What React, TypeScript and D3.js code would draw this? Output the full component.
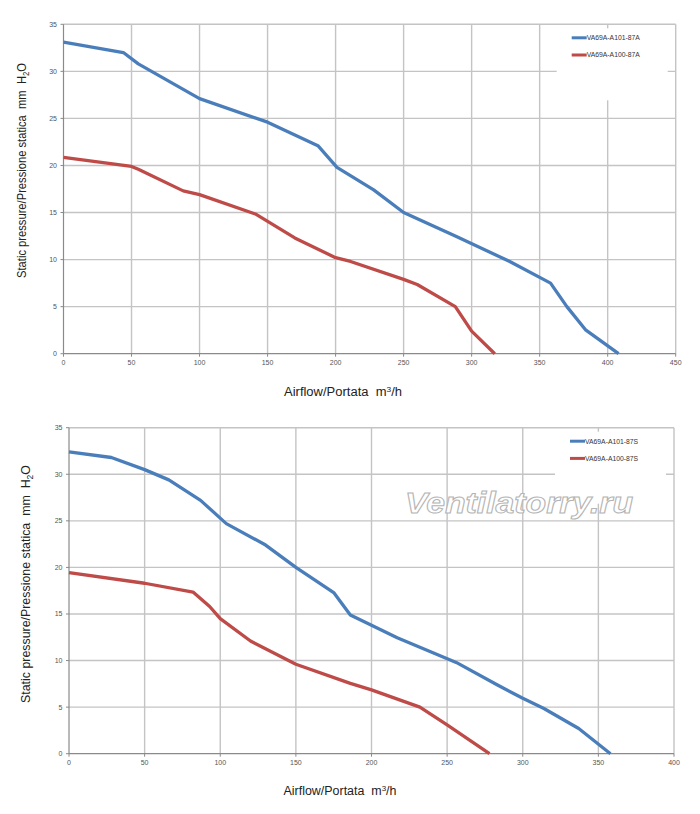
import { useEffect, useRef } from 'react';
import * as d3 from 'd3';

type Pt = [number, number];

// tick values
const yTicks = [0, 5, 10, 15, 20, 25, 30, 35];
const xTicksA = [0, 50, 100, 150, 200, 250, 300, 350, 400, 450];
const xTicksS = [0, 50, 100, 150, 200, 250, 300, 350, 400];

// legend labels
const namesA = ['VA69A-A101-87A', 'VA69A-A100-87A'];
const namesS = ['VA69A-A101-87S', 'VA69A-A100-87S'];

// airflow m3/h, static pressure mm H2O
const a101_87A: Pt[] = [
  [0, 33.1], [44, 32], [55, 30.8], [100, 27.1], [150, 24.6], [187, 22.1],
  [201, 19.8], [228, 17.4], [250, 15.0], [288, 12.5], [328, 9.8],
  [358, 7.5], [370, 5.0], [384, 2.5], [408, 0],
];
const a100_87A: Pt[] = [
  [0, 20.85], [50, 19.9], [55, 19.6], [88, 17.3], [100, 16.9], [141, 14.85],
  [170, 12.3], [200, 10.2], [211, 9.8], [250, 7.9], [260, 7.35],
  [288, 5.0], [300, 2.4], [317, 0],
];
const a101_87S: Pt[] = [
  [0, 32.4], [28, 31.8], [50, 30.5], [66, 29.4], [87, 27.2], [104, 24.7],
  [130, 22.4], [150, 20.0], [175, 17.3], [186, 14.9], [200, 13.8],
  [217, 12.45], [256, 9.8], [283, 7.4], [300, 5.95], [314, 4.85],
  [337, 2.7], [358, 0],
];
const a100_87S: Pt[] = [
  [0, 19.45], [50, 18.3], [82, 17.35], [93, 15.8], [100, 14.5], [120, 12.1],
  [150, 9.6], [186, 7.55], [200, 6.85], [232, 5.0], [250, 3.1], [278, 0],
];

const COLORS = ['#4a7ebb', '#be4b48'];
const FONT = '"Liberation Sans", Arial, sans-serif';

interface ChartCfg {
  left: number;
  right: number;
  top: number;
  bottom: number;
  xTicks: number[];
  series: Pt[][];
  names: string[];
  yTitle: { x: number; y: number; len: number };
  xTitle: { x: number; y: number; len: number };
  watermark?: boolean;
}

const charts: ChartCfg[] = [
  {
    left: 63.5, right: 675.7, top: 24.3, bottom: 353.7,
    xTicks: xTicksA, series: [a101_87A, a100_87A], names: namesA,
    yTitle: { x: 26, y: 170.5, len: 215 },
    xTitle: { x: 284, y: 396, len: 118 },
  },
  {
    left: 69, right: 674, top: 427.7, bottom: 753.7,
    xTicks: xTicksS, series: [a101_87S, a100_87S], names: namesS,
    yTitle: { x: 29.5, y: 584, len: 238 },
    xTitle: { x: 283.5, y: 795, len: 113 },
    watermark: true,
  },
];

function drawChart(svg: d3.Selection<SVGSVGElement, unknown, null, undefined>, c: ChartCfg) {
  const x = d3.scaleLinear().domain([0, d3.max(c.xTicks)!]).range([c.left, c.right]);
  const y = d3.scaleLinear().domain([0, 35]).range([c.bottom, c.top]);
  const g = svg.append('g');

  // grid
  g.selectAll('line.vg')
    .data(c.xTicks.slice(1))
    .enter()
    .append('line')
    .attr('x1', (d) => x(d)).attr('x2', (d) => x(d))
    .attr('y1', c.top).attr('y2', c.bottom)
    .attr('stroke', '#c4c4c4').attr('stroke-width', 1.4);
  g.selectAll('line.hg')
    .data(yTicks.slice(1))
    .enter()
    .append('line')
    .attr('x1', c.left).attr('x2', c.right)
    .attr('y1', (d) => y(d)).attr('y2', (d) => y(d))
    .attr('stroke', '#c4c4c4').attr('stroke-width', 1.4);

  // legend box hides grid behind it
  const lx = c.right - 119;
  const ly = c.top + 4;
  g.append('rect')
    .attr('x', lx).attr('y', ly)
    .attr('width', 111).attr('height', 72)
    .attr('fill', '#fff');

  if (c.watermark) {
    g.append('text')
      .attr('x', 405).attr('y', 512.5)
      .attr('textLength', 228).attr('lengthAdjust', 'spacingAndGlyphs')
      .attr('font-family', FONT).attr('font-size', 29)
      .attr('font-weight', 'bold').attr('font-style', 'italic')
      .attr('fill', '#fff').attr('stroke', '#b4b4b4').attr('stroke-width', 1)
      .text('Ventilatorry.ru');
  }

  // axes
  const axisColor = '#8a8a8a';
  g.append('line')
    .attr('x1', c.left).attr('x2', c.left).attr('y1', c.top).attr('y2', c.bottom)
    .attr('stroke', axisColor).attr('stroke-width', 1.2);
  g.append('line')
    .attr('x1', c.left).attr('x2', c.right).attr('y1', c.bottom).attr('y2', c.bottom)
    .attr('stroke', axisColor).attr('stroke-width', 1.2);

  g.selectAll('line.yt')
    .data(yTicks)
    .enter()
    .append('line')
    .attr('x1', c.left - 3).attr('x2', c.left)
    .attr('y1', (d) => y(d)).attr('y2', (d) => y(d))
    .attr('stroke', axisColor);
  g.selectAll('line.xt')
    .data(c.xTicks)
    .enter()
    .append('line')
    .attr('x1', (d) => x(d)).attr('x2', (d) => x(d))
    .attr('y1', c.bottom).attr('y2', c.bottom + 3)
    .attr('stroke', axisColor);

  g.selectAll('text.yl')
    .data(yTicks)
    .enter()
    .append('text')
    .attr('x', c.left - 6.5)
    .attr('y', (d) => y(d) + 2.5)
    .attr('text-anchor', 'end')
    .attr('font-family', FONT).attr('font-size', 7).attr('fill', '#555')
    .text((d) => d);
  g.selectAll('text.xl')
    .data(c.xTicks)
    .enter()
    .append('text')
    .attr('x', (d) => x(d))
    .attr('y', c.bottom + 11.5)
    .attr('text-anchor', 'middle')
    .attr('font-family', FONT).attr('font-size', 7).attr('fill', '#555')
    .text((d) => d);

  // curves
  const line = d3.line<Pt>().x((d) => x(d[0])).y((d) => y(d[1]));
  c.series.forEach((s, i) => {
    g.append('path')
      .attr('d', line(s))
      .attr('fill', 'none')
      .attr('stroke', COLORS[i])
      .attr('stroke-width', 3.3)
      .attr('stroke-linejoin', 'round');
  });

  // legend entries
  c.names.forEach((name, i) => {
    const yy = ly + 9.5 + i * 17.2;
    g.append('line')
      .attr('x1', lx + 15).attr('x2', lx + 30)
      .attr('y1', yy).attr('y2', yy)
      .attr('stroke', COLORS[i]).attr('stroke-width', 3);
    g.append('text')
      .attr('x', lx + 30).attr('y', yy + 2.4)
      .attr('font-family', FONT).attr('font-size', 6.8).attr('fill', '#333')
      .text(name);
  });

  // axis titles
  const yt = g.append('text')
    .attr('transform', `translate(${c.yTitle.x},${c.yTitle.y}) rotate(-90)`)
    .attr('text-anchor', 'middle')
    .attr('textLength', c.yTitle.len).attr('lengthAdjust', 'spacingAndGlyphs')
    .attr('font-family', FONT).attr('font-size', 13).attr('fill', '#222')
    .style('white-space', 'pre');
  yt.append('tspan').text('Static pressure/Pressione statica  mm  H');
  yt.append('tspan').attr('dy', 3).attr('font-size', 9).text('2');
  yt.append('tspan').attr('dy', -3).text('O');

  const xt = g.append('text')
    .attr('x', c.xTitle.x).attr('y', c.xTitle.y)
    .attr('textLength', c.xTitle.len).attr('lengthAdjust', 'spacingAndGlyphs')
    .attr('font-family', FONT).attr('font-size', 12.5).attr('fill', '#222')
    .style('white-space', 'pre');
  xt.append('tspan').text('Airflow/Portata  m');
  xt.append('tspan').attr('dy', -4).attr('font-size', 8).text('3');
  xt.append('tspan').attr('dy', 4).text('/h');
}

export default function App() {
  const svgRef = useRef<SVGSVGElement>(null);

  useEffect(() => {
    if (!svgRef.current) return;
    const svg = d3.select(svgRef.current);
    svg.selectAll('*').remove();
    svg.append('rect').attr('width', 700).attr('height', 814).attr('fill', '#fff');
    charts.forEach((c) => drawChart(svg, c));
  }, []);

  return (
    <svg
      ref={svgRef}
      width={700}
      height={814}
      viewBox="0 0 700 814"
      style={{ position: 'absolute', left: 0, top: 0, display: 'block' }}
    />
  );
}
